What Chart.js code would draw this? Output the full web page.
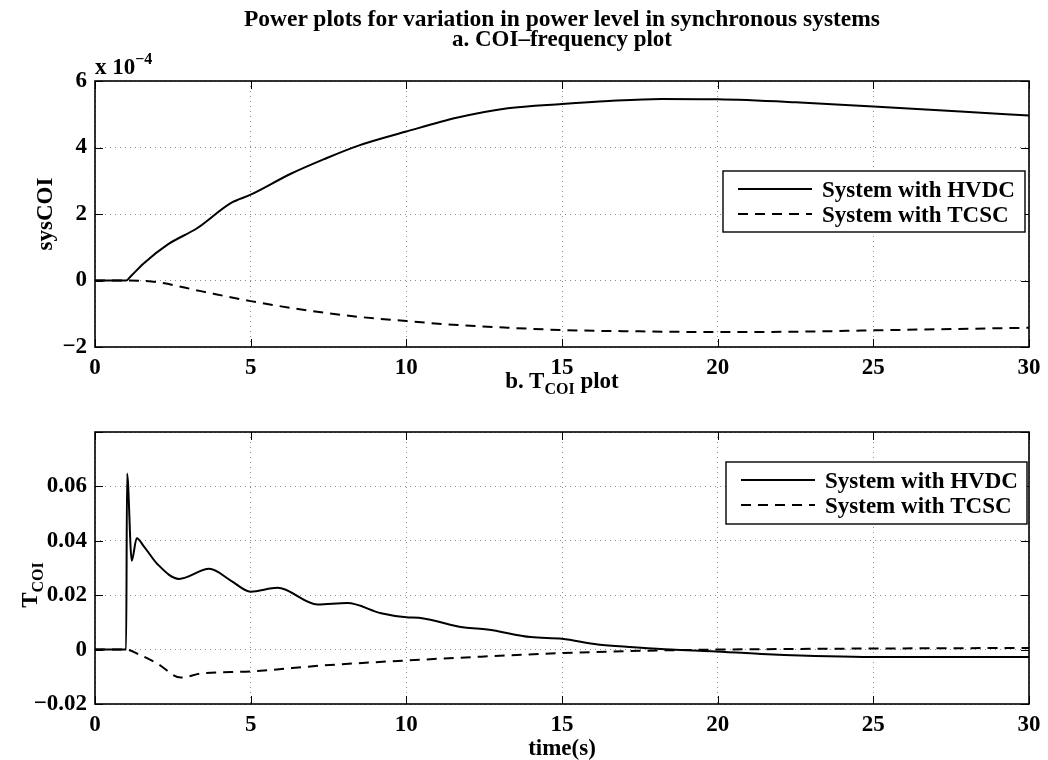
<!DOCTYPE html>
<html>
<head>
<meta charset="utf-8">
<script src="https://cdn.jsdelivr.net/npm/chart.js@4.4.0/dist/chart.umd.min.js"></script>
<style>
  html, body { margin: 0; padding: 0; background: #fff; overflow: hidden; }
  #wrap { position: relative; width: 1048px; height: 760px; font-family: 'Liberation Serif', 'Times New Roman', serif; font-weight: bold; color: #000; }
  .pane { position: absolute; left: 0; width: 1048px; height: 380px; }
  .txt { position: absolute; white-space: nowrap; font-size: 23px; line-height: 1; }
  .rot { position: absolute; white-space: nowrap; font-size: 23px; text-align: center; transform: rotate(-90deg); transform-origin: 50% 50%; }
  sub { font-size: 16px; vertical-align: -6px; line-height: 0; }
  sup { font-size: 16px; vertical-align: 10px; line-height: 0; }
</style>
</head>
<body>
<div id="wrap">
  <div class="pane" style="top:0"><canvas id="topChart" width="1048" height="380"></canvas></div>
  <div class="pane" style="top:380px"><canvas id="bottomChart" width="1048" height="380"></canvas></div>

  <div class="txt" style="left:162px;width:800px;text-align:center;top:7px;font-size:23.5px">Power plots for variation in power level in synchronous systems</div>
  <div class="txt" style="left:162px;width:800px;text-align:center;top:27px;font-size:23px">a. COI&ndash;frequency plot</div>
  <div class="txt" style="left:95px;top:55px">x 10<sup>&minus;4</sup></div>
  <div class="rot" style="left:-15px;top:202px;width:120px;height:24px;line-height:24px">sysCOI</div>

  <div class="txt" style="left:162px;width:800px;text-align:center;top:369px">b. T<sub>COI</sub> plot</div>
  <div class="rot" style="left:-25px;top:572px;width:110px;height:26px;line-height:26px">T<sub>COI</sub></div>
  <div class="txt" style="left:162px;width:800px;text-align:center;top:736px">time(s)</div>
</div>

<script>
'use strict';

// ---- data ----
// a. COI-frequency (values in units of 1e-4)
const tHvdcCoi = [0, 1.0, 1.15, 1.58, 2.33, 3.29, 4.36, 5, 6.29, 7.36, 8.44, 10, 11.65, 13.26, 15, 16.5, 18.2, 20, 22.5, 25, 27.8, 30];
const hvdcCoi  = [0, 0, 0.13, 0.53, 1.08, 1.58, 2.33, 2.58, 3.21, 3.65, 4.05, 4.48, 4.9, 5.18, 5.31, 5.4, 5.46, 5.45, 5.36, 5.23, 5.08, 4.96];
const tTcscCoi = [0, 1.0, 1.5, 2.0, 3.4, 5, 6.83, 8.44, 10, 11.65, 13.26, 15, 17.5, 20, 22.5, 25, 27.5, 30];
const tcscCoi  = [0, 0, -0.01, -0.05, -0.32, -0.62, -0.9, -1.09, -1.22, -1.34, -1.42, -1.49, -1.53, -1.55, -1.54, -1.5, -1.46, -1.42];

// b. T_COI
const tHvdcT = [0, 1.0, 1.03, 1.18, 1.34, 1.58, 2.0, 2.7, 3.67, 4.36, 5.0, 5.86, 7.15, 8.1, 9.19, 10, 10.4, 11.87, 12.6, 14.0, 15, 16.15, 17.3, 18.5, 19.8, 21.6, 25, 30];
const hvdcT  = [0, 0, 0.0647, 0.0327, 0.0409, 0.0378, 0.0315, 0.026, 0.0297, 0.0254, 0.0213, 0.0227, 0.0166, 0.0171, 0.0134, 0.0119, 0.0117, 0.0081, 0.0074, 0.0046, 0.004, 0.0019, 0.0009, 0, -0.0006, -0.0017, -0.0027, -0.0027];
const tTcscT = [0, 1.0, 1.42, 2.0, 2.76, 3.4, 5, 7.36, 10, 12.4, 15, 17.76, 20, 25, 30];
const tcscT  = [0, 0, -0.0018, -0.0051, -0.0103, -0.0088, -0.008, -0.0058, -0.004, -0.0026, -0.0013, -0.0004, 0, 0.0004, 0.0006];

const seriesNames = ['System with HVDC', 'System with TCSC'];
const xTicks = [0, 5, 10, 15, 20, 25, 30];

const FONT = "'Liberation Serif', 'Times New Roman', serif";
const zip = (xs, ys) => xs.map((x, i) => ({ x, y: ys[i] }));
const minus = v => (v < 0 ? '\u2212' : '');

// frame, inward ticks and boxed legend, MATLAB style
const matlabAxes = {
    id: 'matlabAxes',
    afterDraw(chart, args, opts) {
        const { ctx, chartArea: a } = chart;
        const sx = chart.scales.x, sy = chart.scales.y;
        ctx.save();
        ctx.setLineDash([]);
        ctx.strokeStyle = '#000';
        ctx.lineWidth = 1;
        ctx.beginPath();
        sx.ticks.forEach(t => {
            const px = Math.round(sx.getPixelForValue(t.value)) + 0.5;
            ctx.moveTo(px, a.bottom); ctx.lineTo(px, a.bottom - 8);
            ctx.moveTo(px, a.top); ctx.lineTo(px, a.top + 8);
        });
        sy.ticks.forEach(t => {
            const py = Math.round(sy.getPixelForValue(t.value)) + 0.5;
            ctx.moveTo(a.left, py); ctx.lineTo(a.left + 8, py);
            ctx.moveTo(a.right, py); ctx.lineTo(a.right - 8, py);
        });
        ctx.stroke();
        ctx.lineWidth = 1.6;
        ctx.strokeRect(a.left, a.top, a.right - a.left, a.bottom - a.top);

        // legend box
        const bx = a.right - opts.right - opts.width;
        const by = a.top + opts.top;
        ctx.fillStyle = '#fff';
        ctx.fillRect(bx, by, opts.width, opts.height);
        ctx.lineWidth = 1.4;
        ctx.strokeRect(bx, by, opts.width, opts.height);
        ctx.font = 'bold 23px ' + FONT;
        ctx.fillStyle = '#000';
        ctx.textBaseline = 'alphabetic';
        chart.data.datasets.forEach((ds, i) => {
            const base = by + 26 + i * 25;
            ctx.setLineDash(ds.borderDash || []);
            ctx.lineWidth = ds.borderWidth;
            ctx.beginPath();
            ctx.moveTo(bx + 15, base - 8);
            ctx.lineTo(bx + 89, base - 8);
            ctx.stroke();
            ctx.setLineDash([]);
            ctx.fillText(ds.label, bx + 99, base);
        });
        ctx.restore();
    }
};

function makeChart(id, hvdc, tcsc, yOpts, layout, legendPos) {
    const dsBase = { borderColor: '#000', borderWidth: 2, pointRadius: 0, fill: false, cubicInterpolationMode: 'monotone' };
    return new Chart(document.getElementById(id), {
        type: 'line',
        data: {
            datasets: [
                { ...dsBase, label: seriesNames[0], data: hvdc },
                { ...dsBase, label: seriesNames[1], data: tcsc, borderDash: [10, 7] }
            ]
        },
        options: {
            responsive: false,
            animation: false,
            events: [],
            layout: { padding: { top: layout.top, right: 19, left: 0, bottom: 0 } },
            plugins: { legend: { display: false }, tooltip: { enabled: false }, matlabAxes: legendPos },
            scales: {
                x: {
                    type: 'linear', min: 0, max: 30,
                    afterBuildTicks: s => { s.ticks = xTicks.map(v => ({ value: v })); },
                    afterFit: s => { s.height = layout.xHeight; },
                    grid: { color: '#8c8c8c', lineWidth: 1, drawTicks: false },
                    border: { display: false, dash: [1, 4] },
                    ticks: { padding: 7, color: '#000', font: { family: FONT, size: 23, weight: 'bold' }, maxRotation: 0, callback: v => String(v) }
                },
                y: {
                    type: 'linear', min: yOpts.min, max: yOpts.max,
                    afterBuildTicks: s => { s.ticks = yOpts.ticks.map(v => ({ value: v })); },
                    afterFit: s => { s.width = 95; },
                    grid: { color: '#8c8c8c', lineWidth: 1, drawTicks: false },
                    border: { display: false, dash: [1, 4] },
                    ticks: { padding: 8, color: '#000', font: { family: FONT, size: 23, weight: 'bold' }, callback: yOpts.format }
                }
            }
        },
        plugins: [matlabAxes]
    });
}

makeChart('topChart',
    zip(tHvdcCoi, hvdcCoi), zip(tTcscCoi, tcscCoi),
    { min: -2, max: 6, ticks: [-2, 0, 2, 4, 6], format: v => minus(v) + Math.abs(v) },
    { top: 81, xHeight: 33 },
    { right: 4, top: 90, width: 302, height: 61 });

makeChart('bottomChart',
    zip(tHvdcT, hvdcT), zip(tTcscT, tcscT),
    { min: -0.02, max: 0.08, ticks: [-0.02, 0, 0.02, 0.04, 0.06, 0.08],
      format: v => (Math.abs(v - 0.08) < 1e-9 ? '' : Math.abs(v) < 1e-9 ? '0' : minus(v) + Math.abs(v).toFixed(2)) },
    { top: 52, xHeight: 56 },
    { right: 2, top: 30, width: 301, height: 62 });
</script>
</body>
</html>
